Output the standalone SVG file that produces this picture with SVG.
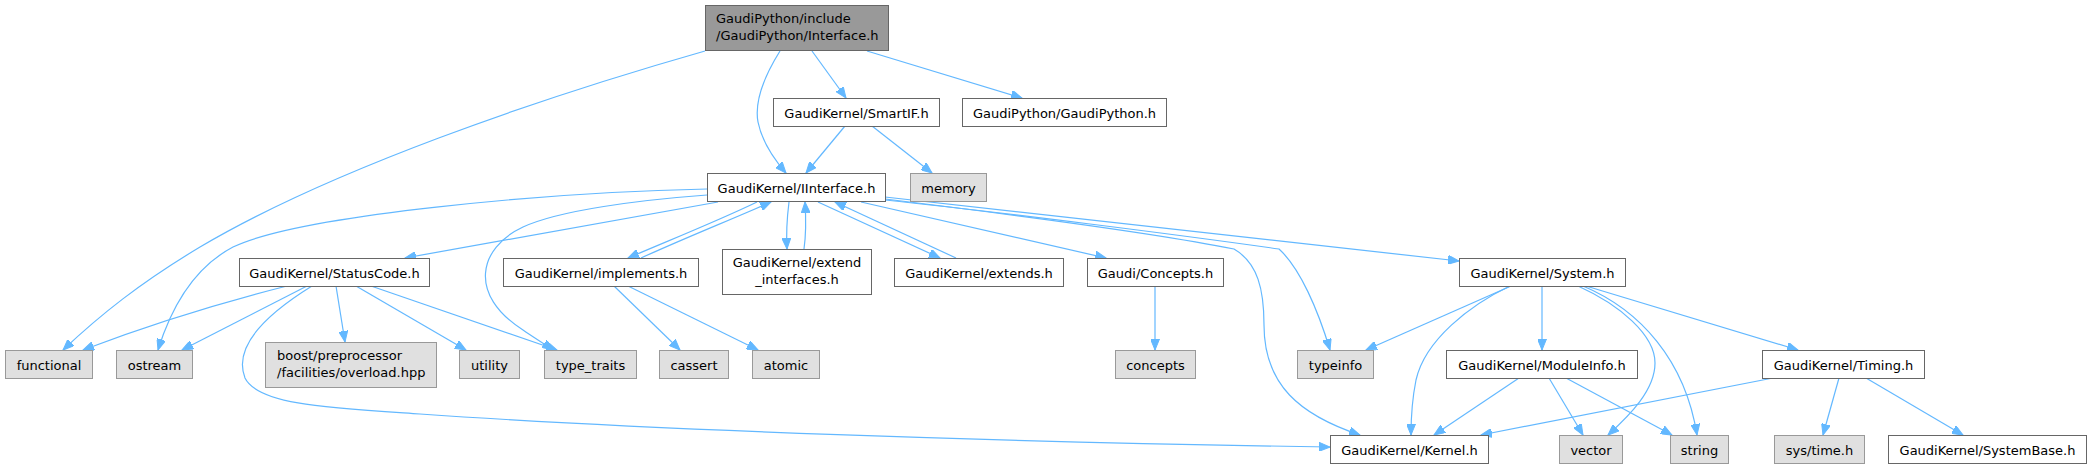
<svg xmlns="http://www.w3.org/2000/svg" width="2091" height="468" viewBox="0 0 2091 468">
<style>
text{font-family:"DejaVu Sans","Liberation Sans",sans-serif;font-size:13px;fill:#000}
.c{text-anchor:middle}
.w{fill:#fff;stroke:#666}
.g{fill:#e0e0e0;stroke:#999}
.r{fill:#999;stroke:#666}
.e path{fill:none;stroke:#63b8ff;stroke-width:1.2;marker-end:url(#a)}
</style>
<defs>
<marker id="a" markerWidth="12" markerHeight="9" refX="11" refY="4.5" orient="auto" markerUnits="userSpaceOnUse"><path d="M0,0 L11,4.5 L0,9 z" fill="#63b8ff" stroke="#63b8ff" stroke-width="1"/></marker>
</defs>
<rect width="2091" height="468" fill="#fff"/>
<g class="e" id="edges">
<path d="M705,51 C540,98 330,170 200,247 C140,283 100,315 63,350"/>
<path d="M780,51 C765,75 754,100 758,122 C762,142 773,158 786,173"/>
<path d="M812,51 L846,98"/>
<path d="M867,51 L1022,98"/>
<path d="M845,126 L806,173"/>
<path d="M872,126 L932,173"/>
<path d="M707,189 C550,192 300,215 233,247 C195,267 172,305 158,350"/>
<path d="M707,195 C640,200 560,210 523,227 C478,248 468,295 523,330 C533,337 543,343 553,350"/>
<path d="M718,202 L405,258"/>
<path d="M757,202 C720,220 670,240 628,258"/>
<path d="M641,258 C680,240 730,220 771,202"/>
<path d="M789,202 C787,218 786,232 787,249"/>
<path d="M804,249 C806,235 806,218 805,202"/>
<path d="M818,202 L940,258"/>
<path d="M956,258 L835,202"/>
<path d="M861,202 L1106,258"/>
<path d="M885,199 C1000,213 1150,232 1234,249 C1258,263 1264,290 1264,325 C1264,385 1300,415 1360,435"/>
<path d="M885,200 C1000,212 1180,235 1279,249 C1300,268 1318,310 1330,350"/>
<path d="M885,197 L1459,261"/>
<path d="M287,286 Q180,313 83,350"/>
<path d="M307,286 L182,350"/>
<path d="M312,286 C270,312 232,345 245,378 C258,405 330,408 420,414 C650,430 1000,442 1330,447"/>
<path d="M336,286 L345,342"/>
<path d="M356,286 L466,350"/>
<path d="M371,286 L557,350"/>
<path d="M614,286 L680,350"/>
<path d="M628,286 L758,350"/>
<path d="M1155,286 L1155,350"/>
<path d="M1511,286 L1366,350"/>
<path d="M1510,286 C1470,305 1425,340 1416,380 C1412,400 1411,420 1411,435"/>
<path d="M1542,286 L1542,350"/>
<path d="M1578,286 C1620,305 1655,335 1655,363 C1655,390 1630,415 1608,435"/>
<path d="M1583,286 C1640,310 1685,360 1697,435"/>
<path d="M1586,286 L1798,350"/>
<path d="M1519,378 L1434,435"/>
<path d="M1549,378 L1583,435"/>
<path d="M1566,378 L1672,435"/>
<path d="M1773,378 L1481,435"/>
<path d="M1839,378 L1823,435"/>
<path d="M1866,378 L1963,435"/>
</g>
<g id="root"><rect class="r" x="705.5" y="5.5" width="183" height="45"/><text x="716" y="23">GaudiPython/include</text><text x="716" y="40">/GaudiPython/Interface.h</text></g>
<g id="smartif"><rect class="w" x="773.5" y="98.5" width="166" height="28"/><text class="c" x="856.5" y="117.5">GaudiKernel/SmartIF.h</text></g>
<g id="gaudipython"><rect class="w" x="962.5" y="98.5" width="204" height="28"/><text class="c" x="1064.5" y="117.5">GaudiPython/GaudiPython.h</text></g>
<g id="iinterface"><rect class="w" x="707.5" y="173.5" width="178" height="28"/><text class="c" x="796.5" y="192.5">GaudiKernel/IInterface.h</text></g>
<g id="memory"><rect class="g" x="910.5" y="173.5" width="76" height="28"/><text class="c" x="948.5" y="192.5">memory</text></g>
<g id="statuscode"><rect class="w" x="239.5" y="258.5" width="190" height="28"/><text class="c" x="334.5" y="277.5">GaudiKernel/StatusCode.h</text></g>
<g id="implements"><rect class="w" x="503.5" y="258.5" width="195" height="28"/><text class="c" x="601" y="277.5">GaudiKernel/implements.h</text></g>
<g id="extend_interfaces"><rect class="w" x="722.5" y="249.5" width="149" height="45"/><text class="c" x="797" y="267">GaudiKernel/extend</text><text class="c" x="797" y="284">_interfaces.h</text></g>
<g id="extends"><rect class="w" x="894.5" y="258.5" width="169" height="28"/><text class="c" x="979" y="277.5">GaudiKernel/extends.h</text></g>
<g id="concepts_h"><rect class="w" x="1087.5" y="258.5" width="136" height="28"/><text class="c" x="1155.5" y="277.5">Gaudi/Concepts.h</text></g>
<g id="system"><rect class="w" x="1459.5" y="258.5" width="166" height="28"/><text class="c" x="1542.5" y="277.5">GaudiKernel/System.h</text></g>
<g id="functional"><rect class="g" x="5.5" y="350.5" width="87" height="28"/><text class="c" x="49" y="369.5">functional</text></g>
<g id="ostream"><rect class="g" x="116.5" y="350.5" width="76" height="28"/><text class="c" x="154.5" y="369.5">ostream</text></g>
<g id="boost"><rect class="g" x="265.5" y="342.5" width="171" height="45"/><text x="277" y="360">boost/preprocessor</text><text x="277" y="377">/facilities/overload.hpp</text></g>
<g id="utility"><rect class="g" x="459.5" y="350.5" width="60" height="28"/><text class="c" x="489.5" y="369.5">utility</text></g>
<g id="type_traits"><rect class="g" x="544.5" y="350.5" width="92" height="28"/><text class="c" x="590.5" y="369.5">type_traits</text></g>
<g id="cassert"><rect class="g" x="659.5" y="350.5" width="69" height="28"/><text class="c" x="694" y="369.5">cassert</text></g>
<g id="atomic"><rect class="g" x="752.5" y="350.5" width="67" height="28"/><text class="c" x="786" y="369.5">atomic</text></g>
<g id="concepts"><rect class="g" x="1115.5" y="350.5" width="80" height="28"/><text class="c" x="1155.5" y="369.5">concepts</text></g>
<g id="typeinfo"><rect class="g" x="1297.5" y="350.5" width="76" height="28"/><text class="c" x="1335.5" y="369.5">typeinfo</text></g>
<g id="moduleinfo"><rect class="w" x="1446.5" y="350.5" width="191" height="28"/><text class="c" x="1542" y="369.5">GaudiKernel/ModuleInfo.h</text></g>
<g id="timing"><rect class="w" x="1762.5" y="350.5" width="162" height="28"/><text class="c" x="1843.5" y="369.5">GaudiKernel/Timing.h</text></g>
<g id="kernel"><rect class="w" x="1330.5" y="435.5" width="158" height="28"/><text class="c" x="1409.5" y="454.5">GaudiKernel/Kernel.h</text></g>
<g id="vector"><rect class="g" x="1559.5" y="435.5" width="63" height="28"/><text class="c" x="1591" y="454.5">vector</text></g>
<g id="string"><rect class="g" x="1670.5" y="435.5" width="58" height="28"/><text class="c" x="1699.5" y="454.5">string</text></g>
<g id="systime"><rect class="g" x="1774.5" y="435.5" width="90" height="28"/><text class="c" x="1819.5" y="454.5">sys/time.h</text></g>
<g id="systembase"><rect class="w" x="1888.5" y="435.5" width="198" height="28"/><text class="c" x="1987.5" y="454.5">GaudiKernel/SystemBase.h</text></g>
</svg>
